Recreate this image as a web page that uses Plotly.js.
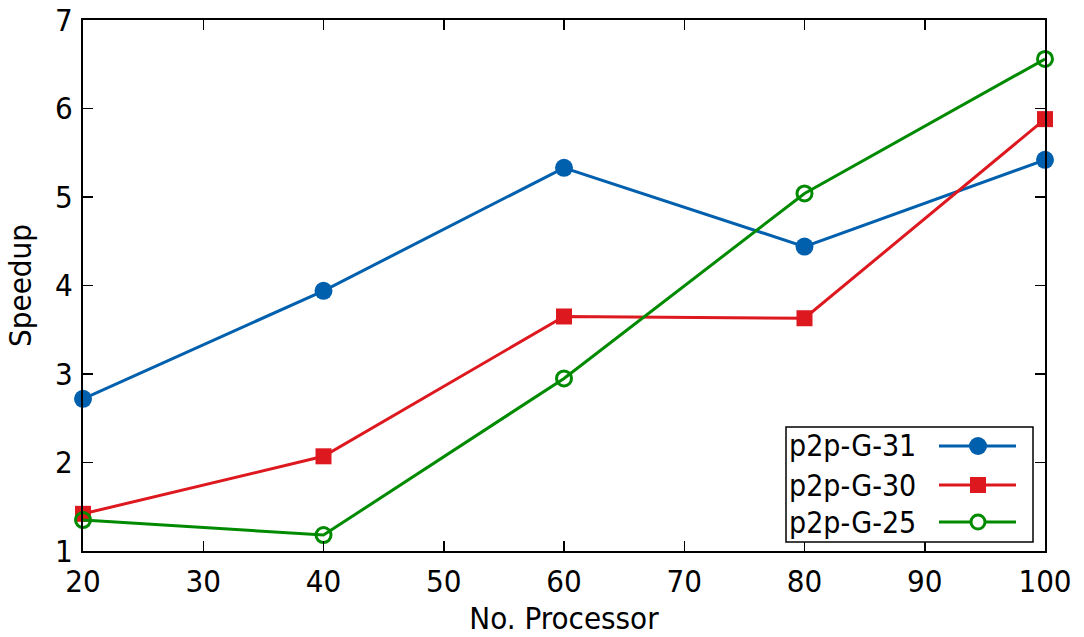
<!DOCTYPE html>
<html>
<head>
<meta charset="utf-8">
<script src="https://cdn.plot.ly/plotly-3.0.1.min.js"></script>
<style>html,body{margin:0;padding:0;background:#fff;}#chart{width:1084px;height:637px;}</style>
</head>
<body>
<div id="chart"></div>
<script>
const processors = [20, 40, 60, 80, 100];
const seriesNames = ["p2p-G-31", "p2p-G-30", "p2p-G-25"];
const g31 = [2.72, 3.94, 5.33, 4.44, 5.42];
const g30 = [1.42, 2.07, 3.65, 3.63, 5.88];
const g25 = [1.35, 1.18, 2.95, 5.04, 6.56];
const xTicks = [20, 30, 40, 50, 60, 70, 80, 90, 100];
const yTicks = [1, 2, 3, 4, 5, 6, 7];

const colors = ["#0060ad", "#dd181f", "#008a00"];
const FONT = "DejaVu Sans Condensed, DejaVu Sans, sans-serif";
const FS = 31;

const traces = [
  {x: processors, y: g31, name: seriesNames[0], mode: "lines+markers", cliponaxis: false,
   line: {color: colors[0], width: 3}, marker: {symbol: "circle", size: 18, color: colors[0]}},
  {x: processors, y: g30, name: seriesNames[1], mode: "lines+markers", cliponaxis: false,
   line: {color: colors[1], width: 3}, marker: {symbol: "square", size: 16, color: colors[1]}},
  {x: processors, y: g25, name: seriesNames[2], mode: "lines+markers", cliponaxis: false,
   line: {color: colors[2], width: 3},
   marker: {symbol: "circle-open", size: 15, color: colors[2], line: {width: 3, color: colors[2]}}}
];

// custom gnuplot-style key: text on the left, sample on the right
const L = 83, R = 1045, T = 20, B = 551;
const px = v => (v - L) / (R - L);
const py = v => (B - v) / (B - T);
const rows = [446, 485, 522];
const shapes = [{type: "rect", xref: "paper", yref: "paper",
  x0: px(786), x1: px(1033), y0: py(542), y1: py(427),
  line: {color: "#000", width: 1.5}, fillcolor: "rgba(255,255,255,1)", layer: "above"}];
const annotations = [];
seriesNames.forEach((n, i) => {
  const yc = rows[i];
  shapes.push({type: "line", xref: "paper", yref: "paper", x0: px(939), x1: px(1016),
    y0: py(yc), y1: py(yc), line: {color: colors[i], width: 3}, layer: "above"});
  const h = i === 0 ? 9 : (i === 1 ? 8 : 7);
  const shp = {xref: "paper", yref: "paper", x0: px(978 - h), x1: px(978 + h),
    y0: py(yc + h), y1: py(yc - h), layer: "above"};
  if (i === 0) Object.assign(shp, {type: "circle", fillcolor: colors[0], line: {color: colors[0], width: 0}});
  if (i === 1) Object.assign(shp, {type: "rect", fillcolor: colors[1], line: {color: colors[1], width: 0}});
  if (i === 2) Object.assign(shp, {type: "circle", fillcolor: "#fff", line: {color: colors[2], width: 3}});
  shapes.push(shp);
  annotations.push({xref: "paper", yref: "paper", x: px(787), y: py(yc), xanchor: "left", yanchor: "middle",
    text: n, showarrow: false, font: {family: FONT, size: FS - 1, color: "#000"}});
});

const axisCommon = {
  showline: true, linecolor: "#000", linewidth: 2, mirror: "ticks",
  ticks: "inside", ticklen: 10, tickwidth: 1.5, tickcolor: "#000",
  showgrid: false, zeroline: false,
  tickfont: {family: FONT, size: FS, color: "#000"}
};

const layout = {
  width: 1084, height: 637,
  margin: {l: 83, r: 39, t: 20, b: 86},
  paper_bgcolor: "#fff", plot_bgcolor: "#fff",
  showlegend: false,
  font: {family: FONT, color: "#000"},
  xaxis: Object.assign({}, axisCommon, {range: [20, 100], tickvals: xTicks, ticktext: xTicks.map(String),
    ticklabelstandoff: 2,
    title: {text: "No. Processor", font: {family: FONT, size: FS, color: "#000"}, standoff: 9}}),
  yaxis: Object.assign({}, axisCommon, {range: [1, 7], tickvals: yTicks, ticktext: yTicks.map(String),
    ticklabelstandoff: 2,
    title: {text: "Speedup", font: {family: FONT, size: FS, color: "#000"}, standoff: 14}}),
  shapes: shapes,
  annotations: annotations
};

Plotly.newPlot("chart", traces, layout, {displayModeBar: false, staticPlot: true});
</script>
</body>
</html>
